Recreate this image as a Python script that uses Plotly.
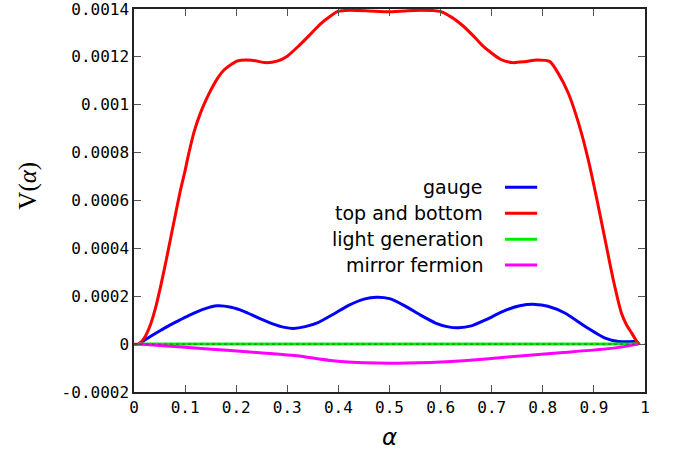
import plotly.graph_objects as go

# ---------------- data ----------------
series_names = ["gauge", "top and bottom", "light generation", "mirror fermion"]
series_colors = ["#0000ff", "#ff0000", "#00ee00", "#ff00ff"]

alpha_top = [0.0, 0.009, 0.020, 0.032, 0.042, 0.052, 0.062, 0.071, 0.080, 0.091, 0.100,
             0.107, 0.118, 0.130, 0.141, 0.153, 0.165, 0.176, 0.190, 0.202,
             0.230, 0.257, 0.280, 0.300, 0.322, 0.345, 0.365, 0.384, 0.399, 0.423,
             0.460, 0.498, 0.530, 0.560, 0.599, 0.622, 0.644, 0.663, 0.683, 0.717,
             0.742, 0.765, 0.789, 0.814, 0.830, 0.850, 0.870, 0.889, 0.906, 0.922,
             0.938, 0.954, 0.964, 0.974, 0.987]
v_top = [0.0, 0.0, 0.000025, 0.00008, 0.00015, 0.00024, 0.00034, 0.000435, 0.00053,
         0.000644, 0.000725, 0.000795, 0.00089, 0.000965, 0.00102, 0.001072, 0.001115,
         0.001145, 0.001168, 0.001183, 0.001186, 0.001176, 0.001182, 0.001203, 0.001245,
         0.001294, 0.001338, 0.00137, 0.00139, 0.001395, 0.001392, 0.001388, 0.001392,
         0.001395, 0.00139, 0.001365, 0.001329, 0.00129, 0.001245, 0.00119, 0.001176,
         0.00118, 0.001187, 0.00118, 0.001132, 0.001048, 0.000923, 0.00077, 0.000603,
         0.000435, 0.000268, 0.000129, 0.00008, 0.000046, 0.0]

alpha_gauge = [0.009, 0.032, 0.050, 0.071, 0.090, 0.110, 0.135, 0.163, 0.190, 0.215,
               0.241, 0.270, 0.295, 0.312, 0.335, 0.360, 0.390, 0.420, 0.450, 0.475,
               0.500, 0.530, 0.560, 0.590, 0.615, 0.635, 0.660, 0.690, 0.720, 0.755,
               0.785, 0.810, 0.844, 0.883, 0.922, 0.948, 0.970, 0.984, 0.988]
v_gauge = [0.0, 0.000032, 0.000055, 0.0000806, 0.000101, 0.000122, 0.000145, 0.00016,
           0.000154, 0.000137, 0.000112, 0.000086, 0.00007, 0.0000657, 0.000073, 0.00009,
           0.000125, 0.000162, 0.000188, 0.000196, 0.00019, 0.00016, 0.000122, 0.000088,
           0.000072, 0.0000683, 0.000076, 0.000103, 0.000135, 0.00016, 0.000166, 0.000158,
           0.000129, 0.0000735, 0.000025, 0.000011, 0.00001, 0.000011, 0.0]

alpha_light = [0.009, 0.25, 0.5, 0.75, 0.987]
v_light = [0.0, 0.0, 0.0, 0.0, 0.0]

alpha_mirror = [0.009, 0.10, 0.189, 0.319, 0.384, 0.475, 0.580, 0.645, 0.743, 0.840, 0.938, 0.987]
v_mirror = [0.0, -0.000013, -0.0000267, -0.0000489, -0.0000685, -0.0000793, -0.0000768,
            -0.0000697, -0.0000518, -0.0000351, -0.0000167, 0.0]

x_ticks = [0, 0.1, 0.2, 0.3, 0.4, 0.5, 0.6, 0.7, 0.8, 0.9, 1]
x_ticklabels = ["0", "0.1", "0.2", "0.3", "0.4", "0.5", "0.6", "0.7", "0.8", "0.9", "1"]
y_ticks = [-0.0002, 0, 0.0002, 0.0004, 0.0006, 0.0008, 0.001, 0.0012, 0.0014]
y_ticklabels = ["-0.0002", "0", "0.0002", "0.0004", "0.0006", "0.0008", "0.001", "0.0012", "0.0014"]

x_title = "<i>α</i>"
y_title = "V(<i>α</i>)"

# ---------------- figure ----------------
xs = [alpha_gauge, alpha_top, alpha_light, alpha_mirror]
ys = [v_gauge, v_top, v_light, v_mirror]

fig = go.Figure()
for name, color, x, y in zip(series_names, series_colors, xs, ys):
    fig.add_trace(go.Scatter(x=x, y=y, mode="lines", name=name,
                             line=dict(color=color, width=3, shape="spline", smoothing=0.6),
                             showlegend=False))

# dotted zero axis (gnuplot style)
fig.add_shape(type="line", xref="x", yref="y", x0=0, x1=1, y0=0, y1=0,
              line=dict(color="rgba(60,60,60,0.7)", width=1, dash="dot"), layer="above")

# custom legend: text right-aligned, line sample on the right
legend_rows_y = [0.5345, 0.4666, 0.3987, 0.3316]
for name, color, ry in zip(series_names, series_colors, legend_rows_y):
    fig.add_annotation(xref="paper", yref="paper", x=0.687, y=ry, text=name,
                       showarrow=False, xanchor="right", yanchor="middle",
                       font=dict(family="DejaVu Sans", size=19, color="black"))
    fig.add_shape(type="line", xref="paper", yref="paper", x0=0.726, x1=0.789,
                  y0=ry, y1=ry, line=dict(color=color, width=3))

# axis titles
fig.add_annotation(xref="paper", yref="paper", x=0.4995, y=-0.1175, text=x_title,
                   showarrow=False, xanchor="center", yanchor="middle",
                   font=dict(family="DejaVu Sans", size=23, color="black"))
fig.add_annotation(xref="paper", yref="paper", x=-0.208, y=0.538, text=y_title,
                   showarrow=False, xanchor="center", yanchor="middle", textangle=-90,
                   font=dict(family="Liberation Serif", size=25, color="black"))

axis_common = dict(showline=True, linecolor="#222222", linewidth=1.5, mirror="allticks",
                   ticks="inside", ticklen=7, tickwidth=1, tickcolor="#555555",
                   showgrid=False, zeroline=False, automargin=False,
                   ticklabeloverflow="allow",
                   tickfont=dict(family="DejaVu Sans Mono", size=16, color="black"))

fig.update_layout(
    width=677, height=453,
    margin=dict(l=133.5, r=32, t=9, b=61),
    paper_bgcolor="white", plot_bgcolor="white",
    xaxis=dict(range=[-0.0000001, 1.0000001], tickvals=x_ticks, ticktext=x_ticklabels,
               **axis_common),
    yaxis=dict(range=[-0.00020000001, 0.00140000001], tickvals=y_ticks, ticktext=y_ticklabels,
               **axis_common),
)

fig.write_html("out.html")
